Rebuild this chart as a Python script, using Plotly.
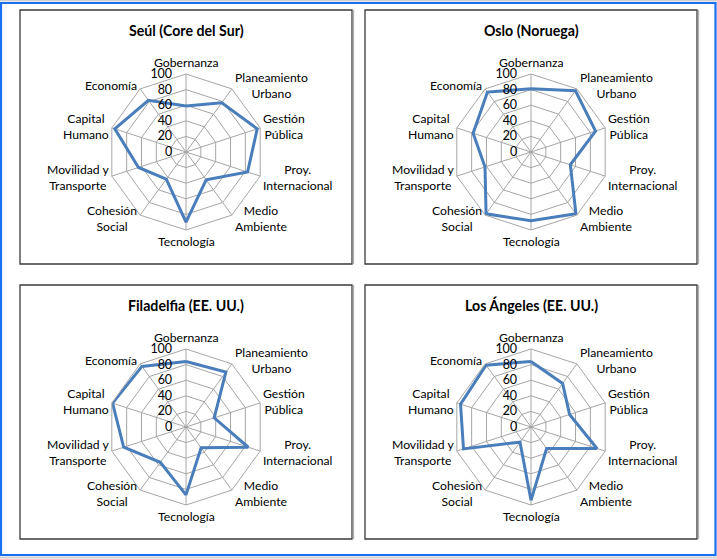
import math
import plotly.graph_objects as go

categories = ["Gobernanza", "Planeamiento<br>Urbano", "Gestión<br>Pública", "Proy.<br>Internacional",
              "Medio<br>Ambiente", "Tecnología", "Cohesión<br>Social", "Movilidad y<br>Transporte",
              "Capital<br>Humano", "Economía"]
titles = ["Seúl (Core del Sur)", "Oslo (Noruega)", "Filadelfia (EE. UU.)", "Los Ángeles (EE. UU.)"]
seul = [59, 78, 96, 83, 44, 90, 43, 64, 96, 82]
oslo = [81, 97, 87, 53, 98, 88, 98, 62, 78, 95]
filadelfia = [84, 87, 38, 84, 33, 87, 56, 84, 99, 96]
los_angeles = [84, 69, 52, 89, 34, 94, 24, 91, 95, 98]
series = [seul, oslo, filadelfia, los_angeles]
radial_ticks = [0, 20, 40, 60, 80, 100]

W, H = 717, 559
# panel frames (pixels): x0, y0, x1, y1
panels = [(20, 10, 352, 264), (365, 10, 697, 264), (20, 285, 352, 539), (365, 285, 697, 539)]
centers = [(186, 152), (531, 152), (186, 427), (531, 427)]
R = 78

def px(x):
    return x / W

def py(y):
    return 1 - y / H

fig = go.Figure()
layout = {}
shapes = []
annotations = []
font_family = "Lato, 'Open Sans', sans-serif"
label_size = 12.2

n = len(categories)
for i, (vals, title) in enumerate(zip(series, titles)):
    name = "polar" if i == 0 else f"polar{i+1}"
    fig.add_trace(go.Scatterpolar(
        r=vals + [vals[0]], theta=categories + [categories[0]],
        mode="lines", line=dict(color="#4A7EBB", width=3),
        subplot=name, showlegend=False, hoverinfo="r+theta"))
    cx, cy = centers[i]
    layout[name] = dict(
        domain=dict(x=[px(cx - R), px(cx + R)], y=[py(cy + R), py(cy - R)]),
        gridshape="linear",
        bgcolor="white",
        angularaxis=dict(direction="clockwise", rotation=90, type="category",
                         categoryarray=categories, showticklabels=False,
                         showline=True, linecolor="#A6A6A6", linewidth=1,
                         gridcolor="#A6A6A6", gridwidth=1, ticks=""),
        radialaxis=dict(range=[0, 100], tickvals=radial_ticks, angle=90,
                        side="counterclockwise", showline=False,
                        gridcolor="#A6A6A6", gridwidth=1,
                        ticks="outside", ticklen=9, tickcolor="rgba(0,0,0,0)",
                        tickangle=90,
                        tickfont=dict(family=font_family, size=12.5, color="black")),
    )
    # category labels placed just outside each vertex of the polar grid
    for k, cat in enumerate(categories):
        phi = 2 * math.pi * k / n
        s, c = math.sin(phi), math.cos(phi)
        vx, vy = cx + R * s, cy - R * c
        if k == 0:
            ann = dict(x=px(vx), y=py(vy - 2), xanchor="center", yanchor="bottom")
        elif k == n // 2:
            ann = dict(x=px(vx), y=py(vy + 2), xanchor="center", yanchor="top")
        elif s > 0:
            ann = dict(x=px(vx + 1), y=py(vy - 4 * c), xanchor="left", yanchor="middle")
        else:
            ann = dict(x=px(vx - 1), y=py(vy - 4 * c), xanchor="right", yanchor="middle")
        ann.update(text=cat, xref="paper", yref="paper", showarrow=False, align="center",
                   font=dict(family=font_family, size=label_size, color="black"))
        annotations.append(ann)

    x0, y0, x1, y1 = panels[i]
    shapes.append(dict(type="rect", xref="paper", yref="paper",
                       x0=px(x0), x1=px(x1), y0=py(y1), y1=py(y0),
                       line=dict(color="#3A3A3A", width=1.3), fillcolor="rgba(0,0,0,0)"))
    shapes.append(dict(type="line", xref="paper", yref="paper",
                       x0=px(x1 + 1.5), x1=px(x1 + 1.5), y0=py(y1), y1=py(y0),
                       line=dict(color="#B0B0B0", width=1.3)))
    annotations.append(dict(text=f"<b>{title}</b>", xref="paper", yref="paper",
                            x=px(cx), y=py(y0 + 20), xanchor="center", yanchor="middle",
                            showarrow=False,
                            font=dict(family=font_family, size=14.2, color="black")))

# outer frame
shapes.append(dict(type="rect", xref="paper", yref="paper",
                   x0=px(1), x1=px(715.5), y0=py(555), y1=py(3),
                   line=dict(color="#1A6EF2", width=2.2), fillcolor="rgba(0,0,0,0)"))
shapes.append(dict(type="line", xref="paper", yref="paper",
                   x0=px(0), x1=px(717), y0=py(0.8), y1=py(0.8),
                   line=dict(color="#D0D0D0", width=1.5)))
shapes.append(dict(type="line", xref="paper", yref="paper",
                   x0=px(0), x1=px(717), y0=py(557.5), y1=py(557.5),
                   line=dict(color="#D0D0D0", width=2)))

fig.update_layout(**layout)
fig.update_layout(width=W, height=H, margin=dict(l=0, r=0, t=0, b=0),
                  paper_bgcolor="white", plot_bgcolor="white",
                  shapes=shapes, annotations=annotations,
                  font=dict(family=font_family))
fig.write_html("out.html")
